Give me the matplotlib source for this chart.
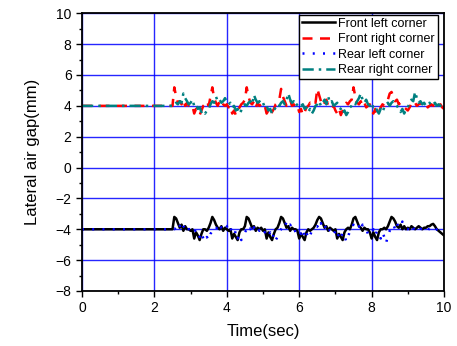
import numpy as np
import matplotlib.pyplot as plt

plt.rcParams['font.family'] = ['Liberation Sans', 'DejaVu Sans']

# time base: flat until 2.5 s, then samples every 0.05 s
t_on = np.round(np.arange(2.5, 10.001, 0.05), 2)
t = np.concatenate([[0.0], t_on])

front_left = [-4.0,
    -4.0, -3.2, -3.3, -3.6, -3.9, -3.7, -4.1, -3.8, -4.0, -4.0,
    -4.1, -4.0, -4.6, -4.2, -4.4, -4.7, -4.3, -4.0, -4.0, -4.1,
    -3.9, -3.6, -3.2, -3.4, -3.7, -3.9, -4.0, -3.8, -4.1, -3.9,
    -4.0, -4.1, -4.0, -4.6, -4.3, -4.5, -4.7, -4.2, -4.0, -4.0,
    -3.8, -3.2, -3.3, -3.6, -3.9, -3.8, -4.1, -3.9, -4.0, -3.9,
    -4.1, -4.0, -4.6, -4.2, -4.5, -4.7, -4.3, -4.0, -3.9, -3.6,
    -3.2, -3.3, -3.6, -3.9, -3.8, -4.1, -3.9, -4.0, -4.0, -4.1,
    -4.6, -4.3, -4.5, -4.7, -4.2, -4.0, -4.1, -4.0, -3.9, -3.7,
    -3.4, -3.2, -3.3, -3.6, -3.9, -3.8, -4.1, -3.9, -4.0, -4.1,
    -4.0, -4.6, -4.3, -4.5, -4.7, -4.2, -4.0, -3.9, -4.0, -3.7,
    -3.3, -3.2, -3.5, -3.8, -3.9, -4.1, -3.9, -4.0, -4.0, -4.2,
    -4.6, -4.2, -4.5, -4.7, -4.2, -4.0, -4.0, -3.9, -4.0, -3.8,
    -3.5, -3.2, -3.3, -3.5, -3.8, -3.9, -3.7, -4.0, -3.8, -4.0,
    -3.9, -4.0, -3.8, -3.9, -4.0, -3.9, -3.8, -3.9, -4.0, -3.9,
    -3.9, -3.8, -3.8, -3.7, -3.65, -3.8, -4.0, -4.1, -4.2, -4.3,
    -4.4]

front_right = [4.0,
    4.0, 5.2, 4.6, 4.2, 4.3, 4.1, 4.4, 4.0, 4.2, 4.0,
    3.9, 4.0, 3.5, 3.8, 3.6, 3.4, 3.7, 4.0, 4.1, 4.3,
    4.0, 4.6, 5.2, 4.5, 4.2, 4.0, 4.3, 4.4, 4.1, 4.0,
    4.1, 3.9, 4.0, 3.5, 3.7, 3.4, 3.6, 3.9, 4.1, 4.2,
    4.4, 5.2, 4.6, 4.2, 4.1, 4.3, 3.9, 4.2, 4.0, 4.1,
    3.9, 4.0, 3.5, 3.7, 3.4, 3.6, 3.8, 4.1, 4.2, 4.4,
    5.1, 4.6, 4.3, 4.0, 4.2, 4.4, 4.0, 4.1, 3.9, 4.0,
    3.6, 3.8, 3.4, 3.6, 3.9, 4.0, 4.2, 4.1, 4.3, 4.2,
    5.1, 4.7, 4.3, 4.0, 4.2, 4.4, 4.0, 4.1, 3.9, 4.0,
    3.7, 3.5, 3.8, 3.4, 3.7, 4.0, 4.2, 4.1, 4.3, 4.4,
    5.2, 4.6, 4.2, 4.1, 4.3, 4.0, 4.2, 3.9, 4.0, 4.1,
    3.7, 3.5, 3.8, 3.4, 3.6, 3.9, 4.1, 4.0, 4.2, 4.4,
    4.8, 4.9, 4.6, 4.3, 4.4, 4.1, 4.2, 4.0, 3.9, 3.8,
    3.7, 3.9, 4.2, 4.1, 4.2, 4.0, 4.1, 4.2, 4.0, 4.1,
    4.1, 3.9, 4.0, 4.1, 4.0, 4.2, 4.1, 4.0, 4.1, 3.9,
    3.8]

rear_left = [-4.0,
    -4.0, -4.0, -3.9, -4.1, -3.8, -3.5, -3.8, -3.9, -3.7, -4.0,
    -3.9, -4.1, -4.2, -4.0, -4.3, -4.5, -4.2, -4.6, -4.8, -4.5,
    -4.7, -4.3, -4.1, -3.9, -4.0, -3.8, -3.6, -3.9, -4.0, -3.7,
    -3.8, -4.1, -3.9, -4.2, -4.4, -4.1, -4.6, -4.3, -4.7, -4.4,
    -4.2, -4.0, -3.8, -4.0, -3.6, -3.9, -3.7, -3.8, -4.1, -3.9,
    -4.0, -4.2, -4.1, -4.4, -4.2, -4.6, -4.3, -4.7, -4.5, -4.2,
    -4.0, -3.8, -3.9, -3.5, -3.8, -3.7, -4.0, -3.9, -4.2, -4.0,
    -4.1, -4.3, -4.0, -4.5, -4.2, -4.6, -4.4, -4.1, -4.0, -3.9,
    -3.8, -4.0, -3.6, -3.9, -3.7, -4.0, -3.8, -4.1, -4.2, -4.4,
    -4.1, -4.5, -4.3, -4.6, -4.2, -4.4, -4.8, -4.5, -4.1, -3.9,
    -3.7, -3.9, -4.0, -3.8, -4.1, -3.7, -3.9, -4.0, -4.3, -4.1,
    -4.2, -4.0, -4.4, -4.1, -4.3, -4.6, -4.2, -4.5, -4.9, -4.4,
    -4.1, -3.9, -3.7, -4.0, -3.6, -3.9, -3.8, -3.5, -3.7, -3.9,
    -4.0, -3.8, -4.0, -3.9, -4.1, -4.0, -4.1, -4.0, -3.9, -4.0,
    -4.0, -4.1, -3.9, -4.0, -4.0, -4.1, -4.0, -3.9, -4.0, -4.0,
    -4.0]

rear_right = [4.0,
    4.0, 4.0, 4.2, 4.1, 4.3, 4.2, 4.8, 4.5, 4.3, 4.1,
    4.2, 4.4, 4.0, 4.1, 3.8, 3.9, 3.6, 3.7, 3.5, 3.7,
    3.8, 4.1, 4.3, 4.2, 4.6, 4.3, 4.4, 4.2, 4.3, 4.5,
    4.3, 4.1, 4.2, 3.9, 4.0, 3.7, 3.8, 3.5, 3.7, 3.9,
    4.1, 4.0, 4.2, 4.3, 4.1, 4.7, 4.4, 4.2, 4.3, 4.1,
    4.2, 3.9, 4.0, 3.7, 3.8, 3.5, 3.7, 3.9, 4.1, 4.0,
    4.2, 4.3, 4.1, 4.4, 4.8, 4.4, 4.2, 4.3, 4.0, 4.1,
    4.2, 4.0, 4.1, 3.8, 3.9, 3.6, 3.8, 3.5, 3.7, 4.0,
    4.1, 4.3, 4.0, 4.2, 4.4, 4.1, 4.6, 4.2, 4.3, 4.0,
    4.1, 4.2, 3.9, 3.8, 3.5, 3.7, 3.4, 3.6, 3.9, 4.0,
    4.2, 4.1, 4.3, 4.5, 4.8, 4.4, 4.2, 4.4, 4.1, 4.0,
    4.2, 3.9, 4.0, 3.7, 3.5, 3.8, 3.6, 3.9, 4.1, 4.2,
    4.0, 4.2, 4.3, 4.1, 4.0, 3.8, 3.6, 3.8, 3.5, 3.8,
    3.9, 4.2, 4.4, 4.3, 4.9, 4.5, 4.2, 4.3, 4.1, 4.2,
    4.0, 4.1, 4.2, 4.0, 4.1, 4.2, 4.0, 4.1, 4.0, 4.1,
    4.1]

fig = plt.figure(figsize=(4.57, 3.46), dpi=100)
ax = fig.add_axes([0.1794, 0.159, 0.7922, 0.8026])

ax.grid(True, color='#0000ff', linewidth=1.0, alpha=0.85)
ax.set_axisbelow(True)

ax.plot(t, front_left, color='black', lw=1.8, label='Front left corner')
ax.plot(t, front_right, color='red', lw=1.8, dashes=(4, 3), label='Front right corner')
ax.plot(t, rear_left, color='blue', lw=1.8, dashes=(0.8, 3.3), label='Rear left corner')
ax.plot(t, rear_right, color='#008080', lw=1.8, dashes=(4.5, 2, 1, 2), label='Rear right corner')

ax.set_xlim(0, 10)
ax.set_ylim(-8, 10)
ax.set_xticks(np.arange(0, 11, 2))
ax.set_yticks(np.arange(-8, 11, 2))
ax.set_xticks(np.arange(0, 11, 1), minor=True)
ax.set_yticks(np.arange(-8, 11, 1), minor=True)
ax.tick_params(which='major', direction='out', length=4, width=1, labelsize=10)
ax.tick_params(which='minor', direction='out', length=2.5, width=1)
for s in ax.spines.values():
    s.set_linewidth(1.3)

ax.set_xlabel('Time(sec)', fontsize=12, labelpad=6)
ax.set_ylabel('Lateral air gap(mm)', fontsize=12, labelpad=11)

leg = ax.legend(loc='upper right', bbox_to_anchor=(0.984, 0.995), fontsize=9,
                handlelength=2.6, handletextpad=0.3, labelspacing=0.28, borderpad=0.25,
                borderaxespad=0, fancybox=False, framealpha=1, edgecolor='black')
leg.get_frame().set_linewidth(1.0)

fig.savefig('out.png', dpi=100)
